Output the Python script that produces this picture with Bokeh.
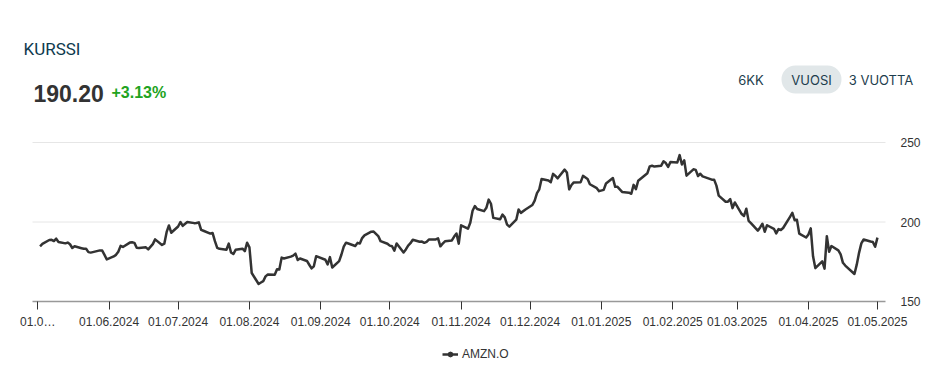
import pandas as pd
from bokeh.plotting import figure
from bokeh.models import (Range1d, FixedTicker, BoxAnnotation, Legend, Label,
                          LegendItem, ColumnDataSource)
from bokeh.core.properties import value
from bokeh.embed import file_html
from bokeh.resources import INLINE

# ---------------- data ----------------
dates = [
    "2024-05-02", "2024-05-03", "2024-05-06", "2024-05-07", "2024-05-08", "2024-05-09", "2024-05-10",
    "2024-05-13", "2024-05-14", "2024-05-15", "2024-05-16", "2024-05-17", "2024-05-20", "2024-05-21",
    "2024-05-22", "2024-05-23", "2024-05-24", "2024-05-28", "2024-05-29", "2024-05-30", "2024-05-31",
    "2024-06-03", "2024-06-04", "2024-06-05", "2024-06-06", "2024-06-07", "2024-06-10", "2024-06-11",
    "2024-06-12", "2024-06-13", "2024-06-14", "2024-06-17", "2024-06-18", "2024-06-20", "2024-06-21",
    "2024-06-24", "2024-06-25", "2024-06-26", "2024-06-27", "2024-06-28",
    "2024-07-01", "2024-07-02", "2024-07-03", "2024-07-05", "2024-07-08", "2024-07-09", "2024-07-10",
    "2024-07-11", "2024-07-12", "2024-07-15", "2024-07-16", "2024-07-17", "2024-07-18", "2024-07-19",
    "2024-07-22", "2024-07-23", "2024-07-24", "2024-07-25", "2024-07-26", "2024-07-29", "2024-07-30",
    "2024-07-31",
    "2024-08-01", "2024-08-02", "2024-08-05", "2024-08-06", "2024-08-07", "2024-08-08", "2024-08-09",
    "2024-08-12", "2024-08-13", "2024-08-14", "2024-08-15", "2024-08-16", "2024-08-19", "2024-08-20",
    "2024-08-21", "2024-08-22", "2024-08-23", "2024-08-26", "2024-08-27", "2024-08-28", "2024-08-29",
    "2024-08-30",
    "2024-09-03", "2024-09-04", "2024-09-05", "2024-09-06", "2024-09-09", "2024-09-10", "2024-09-11",
    "2024-09-12", "2024-09-13", "2024-09-16", "2024-09-17", "2024-09-18", "2024-09-19", "2024-09-20",
    "2024-09-23", "2024-09-24", "2024-09-25", "2024-09-26", "2024-09-27", "2024-09-30",
    "2024-10-01", "2024-10-02", "2024-10-03", "2024-10-04", "2024-10-07", "2024-10-08", "2024-10-09",
    "2024-10-10", "2024-10-11", "2024-10-14", "2024-10-15", "2024-10-16", "2024-10-17", "2024-10-18",
    "2024-10-21", "2024-10-22", "2024-10-23", "2024-10-24", "2024-10-25", "2024-10-28", "2024-10-29",
    "2024-10-30", "2024-10-31",
    "2024-11-01", "2024-11-04", "2024-11-05", "2024-11-06", "2024-11-07", "2024-11-08", "2024-11-11",
    "2024-11-12", "2024-11-13", "2024-11-14", "2024-11-15", "2024-11-18", "2024-11-19", "2024-11-20",
    "2024-11-21", "2024-11-22", "2024-11-25", "2024-11-26", "2024-11-27", "2024-11-29",
    "2024-12-02", "2024-12-03", "2024-12-04", "2024-12-05", "2024-12-06", "2024-12-09", "2024-12-10",
    "2024-12-11", "2024-12-12", "2024-12-13", "2024-12-16", "2024-12-17", "2024-12-18", "2024-12-19",
    "2024-12-20", "2024-12-23", "2024-12-24", "2024-12-26", "2024-12-27", "2024-12-30", "2024-12-31",
    "2025-01-02", "2025-01-03", "2025-01-06", "2025-01-07", "2025-01-08", "2025-01-10", "2025-01-13",
    "2025-01-14", "2025-01-15", "2025-01-16", "2025-01-17", "2025-01-21", "2025-01-22", "2025-01-23",
    "2025-01-24", "2025-01-27", "2025-01-28", "2025-01-29", "2025-01-30", "2025-01-31",
    "2025-02-03", "2025-02-04", "2025-02-05", "2025-02-06", "2025-02-07", "2025-02-10", "2025-02-11",
    "2025-02-12", "2025-02-13", "2025-02-14", "2025-02-18", "2025-02-19", "2025-02-20", "2025-02-21",
    "2025-02-24", "2025-02-25", "2025-02-26", "2025-02-27", "2025-02-28",
    "2025-03-03", "2025-03-04", "2025-03-05", "2025-03-06", "2025-03-07", "2025-03-10", "2025-03-11",
    "2025-03-12", "2025-03-13", "2025-03-14", "2025-03-17", "2025-03-18", "2025-03-19", "2025-03-20",
    "2025-03-21", "2025-03-24", "2025-03-25", "2025-03-26", "2025-03-27", "2025-03-28", "2025-03-31",
    "2025-04-01", "2025-04-02", "2025-04-03", "2025-04-04", "2025-04-07", "2025-04-08", "2025-04-09",
    "2025-04-10", "2025-04-11", "2025-04-14", "2025-04-15", "2025-04-16", "2025-04-17", "2025-04-21",
    "2025-04-22", "2025-04-23", "2025-04-24", "2025-04-25", "2025-04-28", "2025-04-29", "2025-04-30",
    "2025-05-01",
]

close = [
    184.72, 186.21, 188.70, 188.76, 188.00, 189.50, 187.48,
    186.57, 187.07, 185.99, 183.63, 184.70, 183.54, 183.15,
    183.13, 181.05, 180.75, 182.15, 182.02, 179.32, 176.44,
    178.34, 179.34, 181.28, 185.00, 184.30, 187.06, 187.23,
    186.89, 183.83, 183.66, 184.06, 182.81, 186.10, 189.08,
    185.57, 186.34, 193.61, 197.85, 193.25,
    197.20, 200.00, 197.59, 200.00, 199.29, 199.34, 199.79,
    195.05, 194.49, 192.72, 193.02, 187.93, 183.75, 183.13,
    182.55, 186.41, 180.83, 179.85, 182.50, 183.20, 181.71,
    186.98,
    184.07, 167.90, 161.02, 161.93, 162.77, 165.80, 166.94,
    166.80, 170.23, 170.10, 177.59, 177.06, 178.22, 178.88,
    180.11, 176.13, 177.04, 175.50, 173.12, 170.80, 172.12,
    178.50,
    176.25, 173.33, 177.89, 171.39, 175.40, 179.55, 184.52,
    187.00, 186.49, 184.89, 186.88, 186.43, 189.87, 191.60,
    193.88, 193.96, 192.53, 191.16, 187.97, 186.33,
    185.13, 184.76, 181.96, 186.51, 180.80, 182.72, 185.17,
    186.65, 188.82, 187.54, 187.69, 186.89, 187.53, 188.99,
    189.07, 189.70, 184.71, 186.38, 187.83, 188.39, 190.83,
    192.73, 186.40,
    197.93, 195.78, 199.50, 207.09, 210.05, 208.18, 206.84,
    208.91, 214.10, 211.48, 202.61, 201.70, 204.61, 202.88,
    198.38, 197.12, 201.45, 207.86, 205.74, 207.89,
    210.71, 213.44, 218.16, 220.55, 227.03, 226.09, 225.04,
    230.26, 228.97, 227.46, 232.93, 231.15, 220.52, 223.29,
    224.92, 225.06, 229.05, 227.05, 223.75, 221.30, 219.39,
    220.22, 224.19, 227.61, 222.11, 222.13, 218.94, 218.46,
    217.76, 223.35, 220.66, 225.94, 230.71, 235.01, 235.42,
    234.85, 235.42, 238.15, 237.07, 234.64, 237.68,
    237.42, 242.06, 236.17, 238.83, 229.15, 233.14, 232.76,
    228.93, 230.37, 228.68, 226.65, 226.63, 222.88, 216.58,
    212.71, 212.80, 214.35, 208.74, 212.28,
    205.02, 203.80, 208.36, 200.70, 199.25, 194.54, 196.59,
    198.89, 193.89, 197.95, 195.74, 192.82, 195.54, 194.95,
    196.21, 203.26, 205.71, 201.13, 201.36, 192.72, 190.26,
    192.17, 196.01, 178.41, 171.00, 175.26, 170.66, 191.10,
    181.22, 184.87, 182.12, 179.59, 174.33, 172.61, 167.32,
    173.18, 180.60, 186.54, 188.99, 187.70, 187.39, 184.42,
    190.20,
]

tick_dates = ["2024-05-01", "2024-06-01", "2024-07-01", "2024-08-01", "2024-09-01",
              "2024-10-01", "2024-11-01", "2024-12-01", "2025-01-01", "2025-02-01",
              "2025-03-01", "2025-04-01", "2025-05-01"]
tick_labels = ["01.0\u2026", "01.06.2024", "01.07.2024", "01.08.2024", "01.09.2024",
               "01.10.2024", "01.11.2024", "01.12.2024", "01.01.2025", "01.02.2025",
               "01.03.2025", "01.04.2025", "01.05.2025"]
y_ticks = [150, 200, 250]
grid_values = [200, 250]

title_text = "KURSSI"
last_price = "190.20"
change_text = "+3.13%"
range_buttons = ["6KK", "VUOSI", "3 VUOTTA"]
series_name = "AMZN.O"


def ms(d):
    return int(pd.Timestamp(d).value // 10**6)


# ---------------- layout geometry (page pixels) ----------------
W, H = 940, 380
PLOT_L, PLOT_R = 32, 885          # visible axis extent
PLOT_T, PLOT_B = 142, 301         # y=250 line and axis line
DAY = 86400000
x_start = ms("2024-05-01") - int(2.3 * DAY)
x_end = ms("2025-05-01") + int(3.5 * DAY)
ms_per_px = (x_end - x_start) / (PLOT_R - PLOT_L)
y_lo, y_hi = y_ticks[0], y_ticks[-1]
val_per_px = (y_hi - y_lo) / (PLOT_B - PLOT_T)

x_range = Range1d(x_start - PLOT_L * ms_per_px, x_end + (W - PLOT_R) * ms_per_px)
y_range = Range1d(y_lo - (H - PLOT_B) * val_per_px, y_hi + PLOT_T * val_per_px)

src = ColumnDataSource(dict(x=[pd.Timestamp(d) for d in dates], y=close))

p = figure(width=W, height=H, x_axis_type="datetime", y_axis_location="right",
           output_backend="svg", toolbar_location=None,
           x_range=x_range, y_range=y_range,
           min_border_left=0, min_border_right=0, min_border_top=0,
           min_border_bottom=0)
p.title.visible = False
p.outline_line_color = None
p.grid.grid_line_color = None

# x axis: real axis, pinned at y=150 and bounded to the visible extent
xa = p.xaxis[0]
xa.fixed_location = y_lo
xa.bounds = (x_start, x_end)
xa.ticker = FixedTicker(ticks=[ms(d) for d in tick_dates])
xa.major_label_overrides = {ms(d): lab for d, lab in zip(tick_dates, tick_labels)}
xa.axis_line_color = "#999999"
xa.axis_line_width = 1.5
xa.major_tick_line_color = "#333333"
xa.major_tick_out = 8
xa.major_tick_in = 0
xa.minor_tick_line_color = None
xa.major_label_text_font = "Liberation Sans"
xa.major_label_text_font_size = "12px"
xa.major_label_text_color = "#333333"
xa.major_label_standoff = 5

# y axis: real axis, pinned at the right end of the series
ya = p.yaxis[0]
ya.fixed_location = x_end
ya.ticker = FixedTicker(ticks=y_ticks)
ya.axis_line_color = None
ya.major_tick_line_color = None
ya.minor_tick_line_color = None
ya.major_tick_out = 0
ya.major_tick_in = 0
ya.major_label_standoff = 15
ya.major_label_text_font = "Liberation Sans"
ya.major_label_text_font_size = "12px"
ya.major_label_text_color = "#333333"

# horizontal grid lines limited to the axis extent
for gv in grid_values:
    p.segment(x0=[x_start], x1=[x_end], y0=[gv], y1=[gv], line_color="#e6e6e6",
              line_width=1)

# price line
line_r = p.line("x", "y", source=src, line_color="#333333", line_width=2.5,
                line_join="round")
dot_r = p.scatter(x=[float("nan")], y=[float("nan")], size=9,
                  fill_color="#333333", line_color="#333333")

legend = Legend(items=[LegendItem(label=series_name, renderers=[line_r, dot_r])],
                location=(442, H - 361), orientation="horizontal", padding=0, margin=0,
                border_line_color=None, background_fill_alpha=0,
                glyph_width=16, glyph_height=12, label_height=12, label_standoff=4,
                label_text_font="Liberation Sans", label_text_font_size="12px",
                label_text_color="#333333")
p.add_layout(legend)


# ---------------- header (screen units; frame = whole canvas, origin bottom-left) ----
def sy(py):
    return H - py


p.add_layout(Label(x=23, y=sy(48), x_units="screen", y_units="screen",
                   text=title_text, text_font="Roboto", text_font_size="17px",
                   text_color="#0e3a4e", text_baseline="alphabetic"))
p.add_layout(Label(x=33, y=sy(93), x_units="screen", y_units="screen",
                   text=last_price, text_font="Liberation Sans", text_font_style="bold",
                   text_font_size="23px", text_color="#333333",
                   text_baseline="alphabetic"))
p.add_layout(Label(x=111, y=sy(92), x_units="screen", y_units="screen",
                   text=change_text, text_font="Liberation Sans", text_font_style="bold",
                   text_font_size="16px", text_color="#21a321",
                   text_baseline="alphabetic"))
p.add_layout(BoxAnnotation(left=781, right=841, top=sy(65), bottom=sy(93),
                           left_units="screen", right_units="screen",
                           top_units="screen", bottom_units="screen",
                           fill_color="#e1e7e9", fill_alpha=1.0, line_color=None,
                           border_radius=14))
for cx, txt in zip([750.5, 811, 880.5], range_buttons):
    p.add_layout(Label(x=cx, y=sy(79), x_units="screen", y_units="screen",
                       text=txt, text_font="Inter", text_font_size="13px",
                       text_color="#1d3d4d", text_baseline="middle",
                       text_align="center"))

open("out.html", "w").write(file_html(p, INLINE))
